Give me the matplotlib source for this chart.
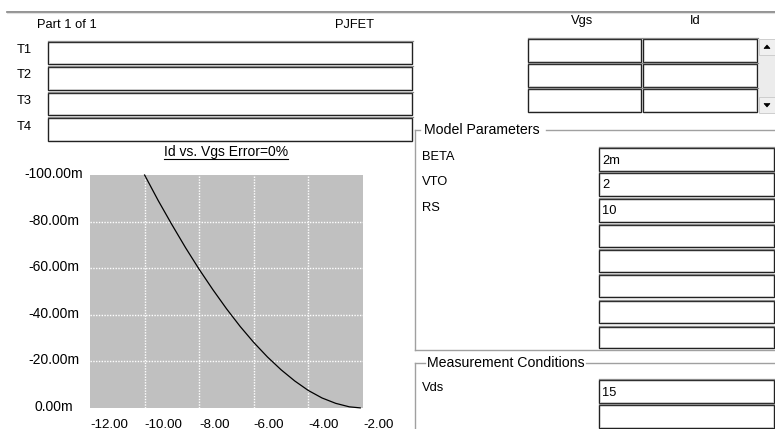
import matplotlib
matplotlib.use("Agg")
import matplotlib.pyplot as plt
from matplotlib.patches import Rectangle, Polygon

plt.rcParams['font.family'] = ['Liberation Sans', 'DejaVu Sans']

# ---- data ----
vgs = [-10.0, -9.5, -9.0, -8.5, -8.0, -7.5, -7.0, -6.5, -6.0, -5.5, -5.0,
       -4.5, -4.0, -3.5, -3.0, -2.5, -2.1]
id_m = [-100.0, -89.0, -78.7, -68.8, -59.5, -50.8, -42.6, -35.0, -28.1, -21.9,
        -16.4, -11.6, -7.5, -4.3, -2.0, -0.5, -0.05]
x_ticks = [-12, -10, -8, -6, -4, -2]
y_ticks = [-100, -80, -60, -40, -20, 0]
chart_title = "Id vs. Vgs Error=0%"
t_labels = ["T1", "T2", "T3", "T4"]
table_headers = ["Vgs", "Id"]
model_params = ["BETA", "VTO", "RS", "", "", "", "", ""]
model_values = ["2m", "2", "10", "", "", "", "", ""]
meas_params = ["Vds", ""]
meas_values = ["15", ""]
part_text = "Part 1 of 1"
part_name = "PJFET"

W, H = 775, 429
fig = plt.figure(figsize=(W / 100, H / 100), dpi=100)
fig.patch.set_facecolor("white")

bg = fig.add_axes([0, 0, 1, 1])
bg.set_xlim(0, W)
bg.set_ylim(H, 0)
bg.axis("off")

FS = 9.3
FS_GRP = 10.2
GRAY = "#a0a0a0"


def sunken(x0, y0, x1, y1):
    bg.add_patch(Rectangle((x0, y0), x1 - x0, y1 - y0, facecolor="white",
                           edgecolor="#222222", lw=1.0))
    bg.plot([x0 - 0.5, x1 + 0.5], [y0 - 0.8, y0 - 0.8], color="#8a8a8a", lw=0.9)
    bg.plot([x0 + 1, x1 - 1], [y1 - 0.8, y1 - 0.8], color="#c8c8c8", lw=0.6)


# top separator line
bg.plot([7, W], [11.5, 11.5], color="#808080", lw=1.2)
bg.plot([7, W], [12.8, 12.8], color="#e0e0e0", lw=0.8)

bg.text(37, 25, part_text, fontsize=FS, va="center", ha="left")
bg.text(335, 25, part_name, fontsize=FS, va="center", ha="left")

# T1..T4 boxes
t_rows = [(42, 64), (67, 90), (93, 115), (118, 141)]
for lab, (ya, yb) in zip(t_labels, t_rows):
    bg.text(17, (ya + yb) / 2 - 3, lab, fontsize=FS, va="center", ha="left")
    sunken(48, ya, 412, yb)

# Vgs / Id table
bg.text(582, 21, table_headers[0], fontsize=FS, va="center", ha="center")
bg.text(695, 21, table_headers[1], fontsize=FS, va="center", ha="center")
tab_rows = [(39, 62), (64, 87), (89, 112)]
for ya, yb in tab_rows:
    sunken(528, ya, 641, yb)
    sunken(643, ya, 757, yb)

# scrollbar
bg.add_patch(Rectangle((759, 39), 16, 74, facecolor="#ececec", edgecolor="none"))
bg.add_patch(Rectangle((759, 39), 16, 16, facecolor="#f0f0f0", edgecolor="#c8c8c8", lw=0.6))
bg.add_patch(Rectangle((759, 97), 16, 16, facecolor="#f0f0f0", edgecolor="#c8c8c8", lw=0.6))
bg.add_patch(Polygon([[764, 48.5], [770, 48.5], [767, 45]], closed=True,
                     facecolor="black", edgecolor="black", lw=0.5))
bg.add_patch(Polygon([[764, 103.5], [770, 103.5], [767, 107]], closed=True,
                     facecolor="black", edgecolor="black", lw=0.5))

# Model Parameters group
bg.plot([415, 420], [130, 130], color=GRAY, lw=1)
bg.plot([546, W], [130, 130], color=GRAY, lw=1)
bg.plot([415, 415], [130, 350], color=GRAY, lw=1)
bg.plot([415, W], [350, 350], color=GRAY, lw=1)
bg.text(424, 130, "Model Parameters", fontsize=FS_GRP, va="center", ha="left")
mp_rows = [(148, 171), (173, 196), (199, 222), (225, 247), (250, 272),
           (275, 297), (301, 323), (327, 348)]
for lab, val, (ya, yb) in zip(model_params, model_values, mp_rows):
    sunken(599, ya, 774, yb)
    if lab:
        bg.text(422, ya + 9, lab, fontsize=FS, va="center", ha="left")
    if val:
        bg.text(602, (ya + yb) / 2 + 1, val, fontsize=FS, va="center", ha="left")

# Measurement Conditions group
bg.plot([415, 425], [363, 363], color=GRAY, lw=1)
bg.plot([586, W], [363, 363], color=GRAY, lw=1)
bg.plot([415, 415], [363, H], color=GRAY, lw=1)
bg.text(427, 363, "Measurement Conditions", fontsize=FS_GRP, va="center", ha="left")
mc_rows = [(380, 403), (405, 428)]
for lab, val, (ya, yb) in zip(meas_params, meas_values, mc_rows):
    sunken(599, ya, 774, yb)
    if lab:
        bg.text(422, ya + 8, lab, fontsize=FS, va="center", ha="left")
    if val:
        bg.text(602, (ya + yb) / 2 + 1, val, fontsize=FS, va="center", ha="left")

# chart title (underlined)
t = bg.text(226, 152, chart_title, fontsize=10, va="center", ha="center")
fig.canvas.draw()
bb = t.get_window_extent().transformed(bg.transData.inverted())
bg.plot([bb.x0, bb.x1], [bb.y0 - 0.3, bb.y0 - 0.3], color="black", lw=0.8)

# ---- plot area ----
px0, px1, py0, py1 = 90, 363, 175, 408
ax = fig.add_axes([px0 / W, 1 - py1 / H, (px1 - px0) / W, (py1 - py0) / H])
ax.set_facecolor("#c0c0c0")
ax.set_xlim(x_ticks[0], x_ticks[-1])
ax.set_ylim(0, -100)
for s in ax.spines.values():
    s.set_visible(False)
ax.set_xticks([])
ax.set_yticks([])
for xv in x_ticks[1:-1]:
    ax.axvline(xv, color="white", lw=1, ls=(0, (1, 1)))
for yv in y_ticks[1:-1]:
    ax.axhline(yv, color="white", lw=1, ls=(0, (1, 1)))
ax.plot(vgs, id_m, color="black", lw=0.9, clip_on=False)

# tick labels (positions mapped from the data ranges)
for xv in x_ticks:
    xp = px0 + (xv - x_ticks[0]) / (x_ticks[-1] - x_ticks[0]) * (px1 - px0)
    bg.text(xp, 419, f"{xv:.2f}", fontsize=9.6, va="top", ha="left")
for yv in y_ticks:
    yp = py1 + (yv - 0) / (-100 - 0) * (py0 - py1)
    bg.text(54, yp - 1, f"{yv:.2f}m", fontsize=10, va="center", ha="center")

fig.savefig("out.png", dpi=100, facecolor="white")
